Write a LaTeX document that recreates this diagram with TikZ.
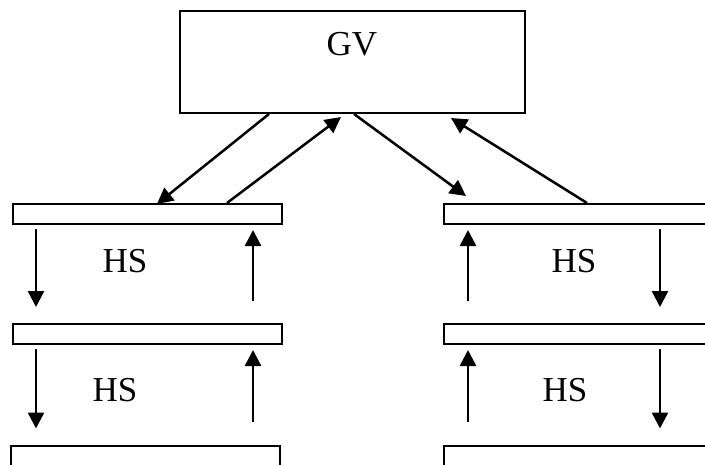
\documentclass[tikz,border=0pt]{standalone}
\usepackage{fontspec}
\setmainfont{Liberation Serif}
\usetikzlibrary{calc,arrows.meta}

\begin{document}
\begin{tikzpicture}[x=1pt,y=-1pt]
\tikzstyle{bar}=[draw,line width=2pt,rectangle,minimum height=20pt,inner sep=0pt];
\tikzstyle{lbl}=[font=\fontsize{35}{40}\selectfont,inner sep=0pt];
\tikzstyle{arr}=[line width=2.5pt,-{Triangle[length=16pt,width=16pt]}];
\useasboundingbox (0,0) rectangle (705,464);
\clip (0,0) rectangle (705,464);
% top box
\node[bar,minimum width=345pt,minimum height=102pt] (gv) at (352.5,62) {};
\node[lbl] (gvtext) at (352,44) {GV};
% left column
\node[bar,minimum width=269pt] (l1) at (147.5,214) {};
\node[bar,minimum width=269pt] (l2) at (147.5,334) {};
\node[bar,minimum width=269pt] (l3) at (145.5,455.5) {};
\node[lbl] (hsl1) at (125,261) {HS};
\node[lbl] (hsl2) at (115,390) {HS};
% right column
\node[bar,minimum width=280pt] (r1) at (584,214) {};
\node[bar,minimum width=280pt] (r2) at (584,334) {};
\node[bar,minimum width=280pt] (r3) at (584,455.5) {};
\node[lbl] (hsr1) at (574,261) {HS};
\node[lbl] (hsr2) at (565,390) {HS};
% between top box and first bars
\draw[arr] ($(gv.south west)+(90,0)$) -- ($(l1.north west)+(145,1)$);
\draw[arr] ($(l1.north west)+(215,0)$) -- ($(gv.south west)+(162,3)$);
\draw[arr] ($(gv.south west)+(175,0)$) -- ($(r1.north west)+(23,-7)$);
\draw[arr] ($(r1.north west)+(144,0)$) -- ($(gv.south west)+(272,4)$);
% left column, down then up
\draw[arr] ($(l1.south west)+(24,4)$) -- ($(l2.north west)+(24,-16)$);
\draw[arr] ($(l2.north east)+(-30,-22)$) -- ($(l1.south east)+(-30,5)$);
\draw[arr] ($(l2.south west)+(24,4)$) -- ($(l3.north west)+(26,-16)$);
\draw[arr] ($(l3.north east)+(-28,-23)$) -- ($(l2.south east)+(-30,5)$);
% right column, up then down
\draw[arr] ($(r2.north west)+(25,-22)$) -- ($(r1.south west)+(25,5)$);
\draw[arr] ($(r1.south west)+(217,4)$) -- ($(r2.north west)+(217,-16)$);
\draw[arr] ($(r3.north west)+(25,-23)$) -- ($(r2.south west)+(25,5)$);
\draw[arr] ($(r2.south west)+(217,4)$) -- ($(r3.north west)+(217,-16)$);
\end{tikzpicture}
\end{document}
